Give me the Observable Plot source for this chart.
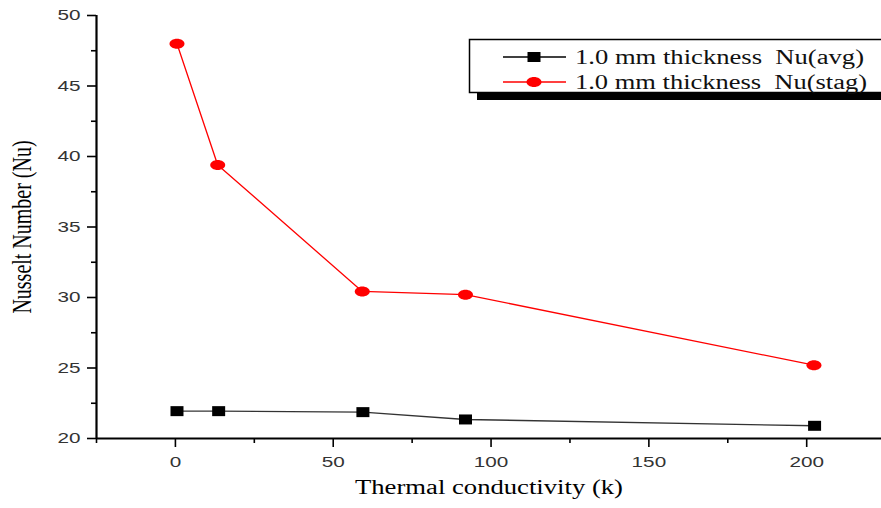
<!DOCTYPE html>
<html><head><meta charset="utf-8">
<script src="https://cdn.jsdelivr.net/npm/d3@7"></script>
<script src="https://cdn.jsdelivr.net/npm/@observablehq/plot@0.6"></script>
<style>
html,body{margin:0;padding:0;background:#fff;overflow:hidden;}
#wrap{position:relative;width:881px;height:508px;overflow:hidden;}
#legend{position:absolute;left:0;top:0;pointer-events:none;}
</style></head><body><div id="wrap"></div>
<script>
const seriesNames = ["1.0 mm thickness  Nu(avg)", "1.0 mm thickness  Nu(stag)"];
const seriesColors = ["black", "red"];
const kAvg = [0.5, 13.7, 59.4, 91.9, 202.5];
const nuAvg = [21.94, 21.94, 21.87, 21.35, 20.9];
const kStag = [0.5, 13.4, 59.2, 91.9, 202.3];
const nuStag = [48.0, 39.4, 30.43, 30.2, 25.2];
const xTicks = [0, 50, 100, 150, 200];
const xMinor = [-25, 25, 75, 125, 175];
const yTicks = [20, 25, 30, 35, 40, 45, 50];
const yMinor = [22.5, 27.5, 32.5, 37.5, 42.5, 47.5];
const xTitle = "Thermal conductivity (k)";
const yTitle = "Nusselt Number (Nu)";

const avg = kAvg.map((k, i) => ({k, nu: nuAvg[i]}));
const stag = kStag.map((k, i) => ({k, nu: nuStag[i]}));

const K = 0.5523;
const ellipseSym = {draw(ctx, size) {
  const r = Math.sqrt(size / Math.PI), rx = 1.5 * r, ry = r;
  ctx.moveTo(rx, 0);
  ctx.bezierCurveTo(rx, ry * K, rx * K, ry, 0, ry);
  ctx.bezierCurveTo(-rx * K, ry, -rx, ry * K, -rx, 0);
  ctx.bezierCurveTo(-rx, -ry * K, -rx * K, -ry, 0, -ry);
  ctx.bezierCurveTo(rx * K, -ry, rx, -ry * K, rx, 0);
  ctx.closePath();
}};
const rectSym = {draw(ctx, size) {
  const r = Math.sqrt(size / Math.PI), w = 1.3 * r, h = r;
  ctx.rect(-w, -h, 2 * w, 2 * h);
}};

const sans = "'Liberation Sans', Arial, sans-serif";
const serif = "'Liberation Serif', 'Times New Roman', serif";

const chart = Plot.plot({
  width: 881, height: 508,
  marginLeft: 96, marginRight: 0, marginTop: 15, marginBottom: 70,
  x: {domain: [-25, 223.7]},
  y: {domain: [20, 50]},
  style: {background: "white", overflow: "visible"},
  marks: [
    Plot.axisX(xTicks, {tickSize: 9, tickPadding: 9, fontSize: 15, fontFamily: sans, stroke: "black", strokeWidth: 1.6, fill: "#333", label: null, className: "tk"}),
    Plot.axisX(xMinor, {tickSize: 5, tickFormat: () => "", stroke: "black", strokeWidth: 1.6, label: null}),
    Plot.axisY(yTicks, {tickSize: 9, tickPadding: 7, fontSize: 15, fontFamily: sans, stroke: "black", strokeWidth: 1.6, fill: "#333", label: null, className: "tk"}),
    Plot.axisY(yMinor, {tickSize: 5, tickFormat: () => "", stroke: "black", strokeWidth: 1.6, label: null}),
    Plot.ruleY([20], {stroke: "black", strokeWidth: 2.2}),
    Plot.ruleX([-25], {stroke: "black", strokeWidth: 2.2}),
    Plot.line(avg, {x: "k", y: "nu", stroke: seriesColors[0], strokeWidth: 1.4, strokeOpacity: 0.8}),
    Plot.line(stag, {x: "k", y: "nu", stroke: seriesColors[1], strokeWidth: 1.3}),
    Plot.dot(avg, {x: "k", y: "nu", symbol: rectSym, r: 5, fill: seriesColors[0], stroke: "none"}),
    Plot.dot(stag, {x: "k", y: "nu", symbol: ellipseSym, r: 5, fill: seriesColors[1], stroke: "none"}),
    Plot.text([xTitle], {frameAnchor: "bottom", dy: 55, fontFamily: serif, fontSize: 20, fill: "black", textAnchor: "middle", className: "xtitle"}),
    Plot.text([yTitle], {frameAnchor: "left", dx: -74, rotate: -90, fontFamily: serif, fontSize: 20, fill: "black", textAnchor: "middle", className: "ytitle"})
  ]
});

const wrap = document.getElementById("wrap");
wrap.appendChild(chart);

// horizontal stretch of the printed texts, as in the source image
d3.select(chart).selectAll(".tk text").each(function() {
  const w = this.getComputedTextLength();
  if (w > 0) d3.select(this).attr("textLength", w * 1.38).attr("lengthAdjust", "spacingAndGlyphs");
});
d3.select(chart).selectAll(".xtitle text").attr("textLength", 268).attr("lengthAdjust", "spacingAndGlyphs");
d3.select(chart).selectAll(".ytitle text").each(function() {
  const t = this.getAttribute("transform") || "";
  this.setAttribute("transform", t.replace("rotate(", "scale(1.35,1) rotate("));
});

// legend
const lg = d3.select(wrap).append("svg").attr("id", "legend").attr("width", 881).attr("height", 508);
lg.append("rect").attr("x", 477).attr("y", 46).attr("width", 440).attr("height", 54).attr("fill", "black");
lg.append("rect").attr("x", 469.5).attr("y", 39.5).attr("width", 440).attr("height", 53).attr("fill", "white").attr("stroke", "black").attr("stroke-width", 1.5);
const rows = [57, 82];
seriesNames.forEach((name, i) => {
  const y = rows[i];
  lg.append("line").attr("x1", 503).attr("x2", 566).attr("y1", y).attr("y2", y)
    .attr("stroke", seriesColors[i]).attr("stroke-width", 1.4);
  lg.append("path").attr("transform", `translate(534,${y})`)
    .attr("d", d3.symbol(i === 0 ? rectSym : ellipseSym, Math.PI * 25)())
    .attr("fill", seriesColors[i]);
  lg.append("text").attr("x", 575).attr("y", y + 7)
    .attr("font-family", serif).attr("font-size", 20).attr("fill", "#111")
    .style("white-space", "pre").attr("xml:space", "preserve")
    .attr("textLength", i === 0 ? 289 : 292).attr("lengthAdjust", "spacingAndGlyphs")
    .text(name);
});
</script></body></html>
